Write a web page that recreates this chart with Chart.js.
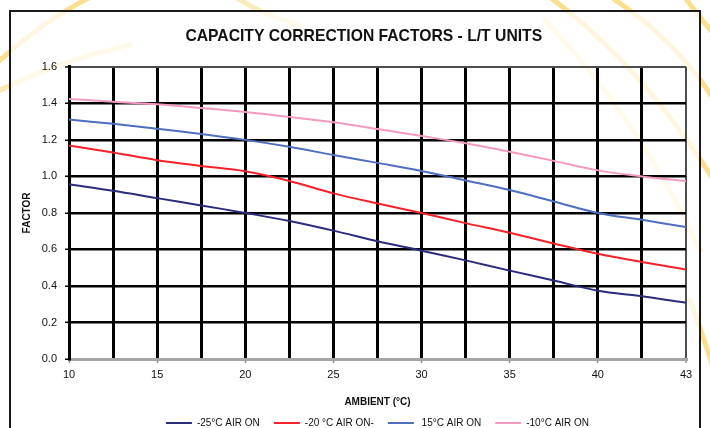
<!DOCTYPE html>
<html lang="en">
<head>
  <meta charset="UTF-8">
  <title>Capacity correction factors</title>
  <style>
    html, body {
      margin: 0;
      padding: 0;
      background: #fff;
      overflow: hidden;
    }

    .bg {
      position: absolute;
      left: 0;
      top: 0;
    }

    .chartBox {
      position: absolute;
      left: 9px;
      top: 10px;
      width: 688px;
      height: 426px;
      border: 2px solid #1a1a1a;
      background: rgba(255, 255, 255, 0.72); /* lets the swirls show through faintly */
    }
  </style>
</head>
<body>

  <!-- decorative swirls behind the chart -->
  <svg class="bg" width="710" height="428" fill="none" stroke="#fcdf8e" stroke-width="5" stroke-linecap="round">
    <path d="M -10 70 Q 40 20 105 -10" />
    <path d="M -10 95 Q 60 60 130 45" opacity="0.7" />
    <path d="M 225 -10 Q 260 15 300 25" opacity="0.6" />
    <path d="M 540 -10 Q 640 60 720 190" />
    <path d="M 600 -10 Q 680 40 720 110" />
    <path d="M 680 -10 Q 700 20 720 40" />
    <path d="M 545 20 Q 640 120 700 250" opacity="0.6" />
    <path d="M 690 300 Q 705 340 720 390" />
  </svg>

  <div class="chartBox">
    <canvas id="myChart" width="688" height="426"></canvas>
  </div>

<script src="https://cdn.jsdelivr.net/npm/chart.js/dist/chart.umd.min.js"></script>
<script>
  // ambient temperature categories (evenly spaced on the chart)
  const categories = ['10', '12.5', '15', '17.5', '20', '22.5', '25', '27.5', '30', '32.5', '35', '37.5', '40', '42.5', '43'];
  const xTickLabels = ['10', '15', '20', '25', '30', '35', '40', '43'];

  const seriesNames = ['-25°C AIR ON', '-20 °C AIR ON-', ' 15°C AIR ON', '-10°C AIR ON'];

  const minus25 = [0.957, 0.922, 0.881, 0.841, 0.800, 0.756, 0.703, 0.645, 0.593, 0.540, 0.484, 0.430, 0.374, 0.344, 0.308];
  const minus20 = [1.169, 1.131, 1.089, 1.057, 1.028, 0.975, 0.907, 0.852, 0.800, 0.744, 0.691, 0.633, 0.576, 0.531, 0.490];
  const plus15  = [1.311, 1.288, 1.261, 1.232, 1.200, 1.162, 1.117, 1.074, 1.030, 0.978, 0.925, 0.863, 0.800, 0.762, 0.723];
  const minus10 = [1.424, 1.409, 1.395, 1.375, 1.353, 1.326, 1.296, 1.259, 1.221, 1.181, 1.135, 1.085, 1.033, 1.000, 0.974];

  const yMin = 0;
  const yMax = 1.6;
  const yStep = 0.2;

  const colors = ['#2b2c7c', '#f5222a', '#4f6fbe', '#f49ac2'];
  const values = [minus25, minus20, plus15, minus10];

  const data = {
    labels: categories,
    datasets: values.map((v, i) => ({
      label: seriesNames[i],
      data: v,
      borderColor: colors[i],
      backgroundColor: colors[i],
      borderWidth: 2,
      pointRadius: 0,
      tension: 0.35,
      fill: false
    }))
  };

  const lastX = categories.length - 1;

  const config = {
    type: 'line',
    data,
    options: {
      responsive: false,
      animation: false,
      layout: {
        padding: { left: 0, right: 13, top: 0, bottom: 0 }
      },
      scales: {
        x: {
          grid: {
            color: (ctx) => ctx.index === lastX ? '#4d4d4d' : '#000',
            lineWidth: (ctx) => ctx.index === lastX ? 2 : 3,
            tickLength: 4,
            tickWidth: 1.5,
            tickColor: (ctx) => xTickLabels.includes(categories[ctx.index]) ? '#8c8c8c' : 'rgba(0,0,0,0)'
          },
          border: { color: '#a6a6a6', width: 3 },
          ticks: {
            autoSkip: false,
            maxRotation: 0,
            padding: 5,
            color: '#111',
            font: { family: '"Liberation Sans", Arial, sans-serif', size: 11 },
            callback: (value, index) => xTickLabels.includes(categories[index]) ? categories[index] : ''
          },
          title: {
            display: true,
            text: 'AMBIENT (°C)',
            color: '#111',
            padding: { top: 9.8, bottom: -4 },
            font: { family: '"Liberation Sans", Arial, sans-serif', size: 10, weight: 'bold' }
          }
        },
        y: {
          min: yMin,
          max: yMax,
          afterFit: (scale) => { scale.width = 58; },
          grid: {
            color: (ctx) => ctx.tick && ctx.tick.value === yMax ? '#4d4d4d' : '#000',
            lineWidth: (ctx) => ctx.tick && ctx.tick.value === yMax ? 2 : 2.5,
            tickLength: 4,
            tickWidth: 1.5,
            tickColor: '#000'
          },
          border: { color: '#000', width: 3 },
          ticks: {
            stepSize: yStep,
            padding: 8,
            color: '#111',
            font: { family: '"Liberation Sans", Arial, sans-serif', size: 11 },
            callback: (v) => v.toFixed(1)
          },
          title: {
            display: true,
            text: 'FACTOR',
            color: '#111',
            padding: { top: 10, bottom: 0 },
            font: { family: '"Liberation Sans", Arial, sans-serif', size: 10, weight: 'bold' }
          }
        }
      },
      plugins: {
        title: {
          display: true,
          // leading no-break spaces nudge the centred title a little to the right
          text: '\u00a0\u00a0\u00a0\u00a0\u00a0\u00a0\u00a0CAPACITY CORRECTION FACTORS - L/T UNITS',
          color: '#111',
          padding: { top: 15, bottom: 21 },
          font: { family: '"Liberation Sans", Arial, sans-serif', size: 15.7, weight: 'bold' }
        },
        legend: {
          position: 'bottom',
          fullSize: false,
          labels: {
            usePointStyle: true,
            pointStyle: 'line',
            pointStyleWidth: 26,
            padding: 14,
            color: '#111',
            font: { family: '"Liberation Sans", Arial, sans-serif', size: 10 }
          }
        },
        tooltip: { enabled: false }
      }
    }
  };

  const myChart = new Chart(document.getElementById('myChart'), config);
</script>
</body>
</html>
